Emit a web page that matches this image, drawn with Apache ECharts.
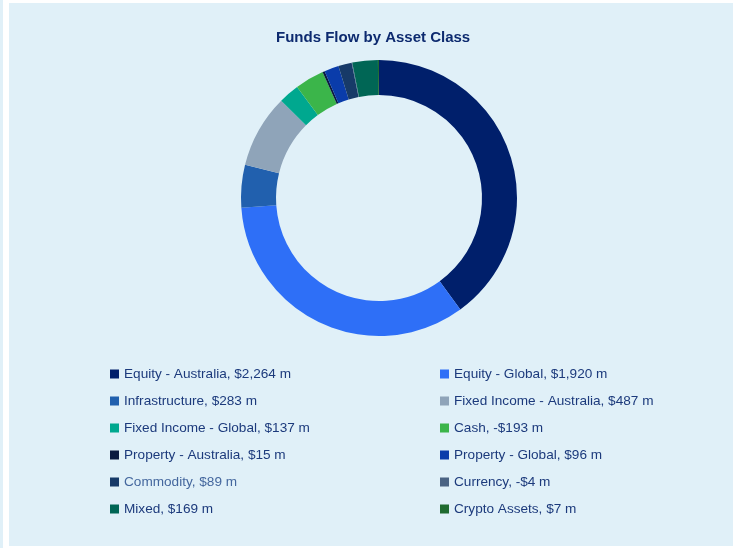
<!DOCTYPE html>
<html>
<head>
<meta charset="utf-8">
<script src="https://cdn.jsdelivr.net/npm/echarts@6/dist/echarts.min.js"></script>
<style>
html,body{margin:0;padding:0;background:#ffffff;width:737px;height:548px;overflow:hidden;}
#strip{position:absolute;left:0;top:0;width:3px;height:548px;background:#e0f0f8;}
#chart{position:absolute;left:9px;top:3px;width:724px;height:543px;background:#e0f0f8;}
</style>
</head>
<body>
<div id="strip"></div>
<div id="chart"></div>
<script>
var categories = ['Equity - Australia','Equity - Global','Infrastructure','Fixed Income - Australia','Fixed Income - Global','Cash','Property - Australia','Property - Global','Commodity','Currency','Mixed','Crypto Assets'];
var flows = [2264, 1920, 283, 487, 137, -193, 15, 96, 89, -4, 169, 7];
var colors = ['#001f6b','#2e6ff7','#2160ae','#8fa4b9','#00a88f','#3bb54a','#0a1a40','#0a3caa','#173a68','#4a6383','#006655','#1f6b30'];

function fmt(v){
  var s = Math.abs(v).toLocaleString('en-US');
  return (v < 0 ? '-$' : '$') + s + ' m';
}
var valueByName = {};
categories.forEach(function(c,i){ valueByName[c] = flows[i]; });

var pieData = categories.map(function(c,i){
  return {name:c, value:Math.abs(flows[i]), itemStyle:{color:colors[i]}};
});

function legendItems(parity){
  var out = [];
  categories.forEach(function(c,i){
    if (i % 2 === parity) {
      var item = {name:c, icon:'rect'};
      if (c === 'Commodity') item.textStyle = {color:'#44679e'};
      out.push(item);
    }
  });
  return out;
}

var legendBase = {
  orient:'vertical',
  itemWidth:9, itemHeight:9, itemGap:13,
  selectedMode:false,
  textStyle:{fontFamily:'Liberation Sans, Arial, sans-serif', fontSize:13.6, color:'#1c3a7c', lineHeight:14},
  formatter:function(name){ return name + ', ' + fmt(valueByName[name]); }
};

var chart = echarts.init(document.getElementById('chart'), null, {renderer:'canvas'});
chart.setOption({
  animation:false,
  backgroundColor:'#e0f0f8',
  title:{
    text:'Funds Flow by Asset Class',
    left:262, top:22,
    textStyle:{fontFamily:'Liberation Sans, Arial, sans-serif', fontSize:15, fontWeight:'bold', color:'#0d2a6f'}
  },
  legend:[
    Object.assign({}, legendBase, {left:96, top:359, data:legendItems(0)}),
    Object.assign({}, legendBase, {left:426, top:359, data:legendItems(1)})
  ],
  series:[{
    type:'pie',
    center:[370,195],
    radius:[103,138],
    startAngle:90,
    clockwise:true,
    avoidLabelOverlap:false,
    label:{show:false},
    labelLine:{show:false},
    emphasis:{disabled:true},
    itemStyle:{borderWidth:0},
    data:pieData
  }]
});
</script>
</body>
</html>
